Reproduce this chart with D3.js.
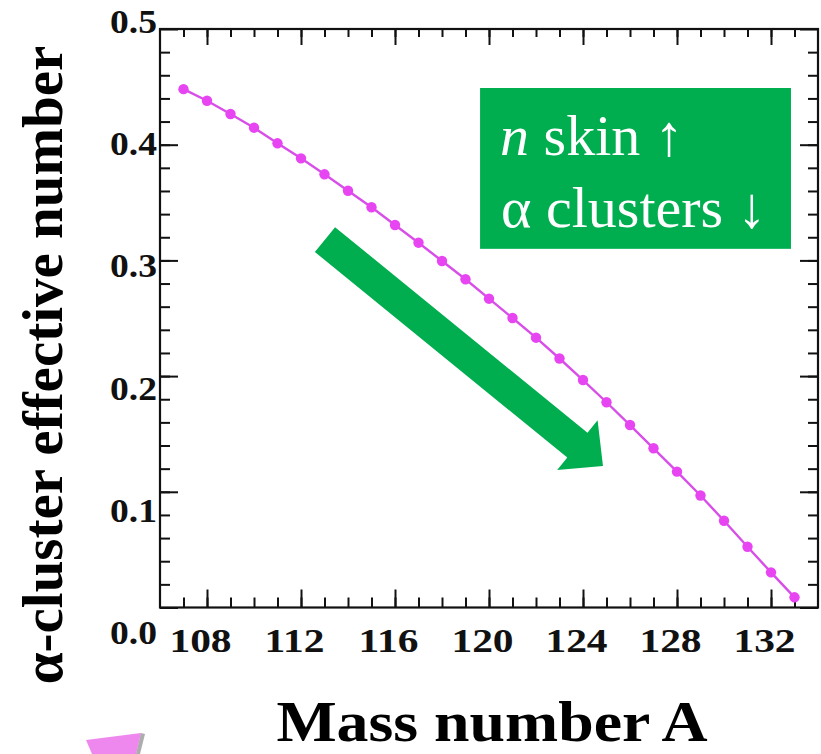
<!DOCTYPE html>
<html>
<head>
<meta charset="utf-8">
<script src="https://cdn.jsdelivr.net/npm/d3@7"></script>
<style>
  html, body { margin: 0; padding: 0; background: #ffffff; }
  svg { display: block; }
  text { font-family: "Liberation Serif", "Times New Roman", serif; }
</style>
</head>
<body>
<svg id="chart" width="821" height="754"></svg>
<script>
// Mass numbers of the isotopes and their alpha-cluster effective numbers
const massNumbers = [107, 108, 109, 110, 111, 112, 113, 114, 115, 116, 117, 118, 119, 120,
                     121, 122, 123, 124, 125, 126, 127, 128, 129, 130, 131, 132, 133];
const alphaEffective = [0.448, 0.438, 0.4265, 0.4147, 0.4012, 0.3882, 0.3744, 0.3602, 0.3459,
                        0.3306, 0.3153, 0.2995, 0.2837, 0.2669, 0.2502, 0.2332, 0.2152, 0.1966,
                        0.1774, 0.1577, 0.1376, 0.1174, 0.0968, 0.0750, 0.0525, 0.0304, 0.0088];

const xDomain = [106, 134];
const yDomain = [0, 0.5];
const xMajorTicks = [108, 112, 116, 120, 124, 128, 132];
const xMinorTicks = d3.range(107, 134);
const yMajorTicks = [0, 0.1, 0.2, 0.3, 0.4, 0.5];
const yMinorTicks = d3.range(0.02, 0.5, 0.02);
const yTickLabels = ["0.0", "0.1", "0.2", "0.3", "0.4", "0.5"];

const svg = d3.select("#chart");
const plotLeft = 160, plotRight = 818, plotTop = 29, plotBottom = 607.5;

const x = d3.scaleLinear().domain(xDomain).range([plotLeft, plotRight]);
const y = d3.scaleLinear().domain(yDomain).range([plotBottom, plotTop]);
// tick labels sit on a slightly taller ladder than the ticks themselves
const yLabelPos = d3.scaleLinear().domain(yDomain).range([632, 21]);

const ink = "#111";
const serif = "'Liberation Serif', 'Times New Roman', serif";

// ---- ticks on all four sides, pointing inward ----
function tickLayer(axis, tx, ty) {
  const g = svg.append("g").attr("transform", `translate(${tx},${ty})`).call(axis);
  g.select(".domain").remove();
  g.selectAll("line").attr("stroke", ink).attr("stroke-width", 2);
  g.selectAll("text").remove();
  return g;
}
tickLayer(d3.axisBottom(x).tickValues(xMinorTicks).tickSize(-10), 0, plotBottom);
tickLayer(d3.axisBottom(x).tickValues(xMajorTicks).tickSize(-18), 0, plotBottom);
tickLayer(d3.axisTop(x).tickValues(xMinorTicks).tickSize(-8), 0, plotTop);
tickLayer(d3.axisTop(x).tickValues(xMajorTicks).tickSize(-16), 0, plotTop);
tickLayer(d3.axisLeft(y).tickValues(yMinorTicks).tickSize(-10), plotLeft, 0);
tickLayer(d3.axisLeft(y).tickValues(yMajorTicks).tickSize(-18), plotLeft, 0);
tickLayer(d3.axisRight(y).tickValues(yMinorTicks).tickSize(-10), plotRight, 0);
tickLayer(d3.axisRight(y).tickValues(yMajorTicks).tickSize(-18), plotRight, 0);

// frame
svg.append("rect")
  .attr("x", plotLeft).attr("y", plotTop)
  .attr("width", plotRight - plotLeft).attr("height", plotBottom - plotTop)
  .attr("fill", "none").attr("stroke", ink).attr("stroke-width", 2.2);

// ---- tick labels (bold serif, drawn a little wide) ----
const xLab = svg.append("g").attr("transform", `translate(0,${plotBottom})`)
  .call(d3.axisBottom(x).tickValues(xMajorTicks).tickSize(0).tickFormat(d3.format("d")));
xLab.select(".domain").remove();
xLab.selectAll("text")
  .attr("y", 45).attr("dy", 0)
  .attr("fill", ink)
  .style("font-family", serif)
  .style("font-weight", "bold")
  .style("font-size", "34px")
  .attr("transform", "translate(-7,0) scale(1.22,1)");

const yLab = svg.append("g").attr("transform", `translate(${plotLeft - 3},0)`)
  .call(d3.axisLeft(yLabelPos).tickValues(yMajorTicks).tickSize(0)
    .tickFormat((d, i) => yTickLabels[i]));
yLab.select(".domain").remove();
yLab.selectAll("text")
  .attr("x", 0).attr("dy", "0.35em")
  .attr("fill", ink)
  .style("font-family", serif)
  .style("font-weight", "bold")
  .style("font-size", "33px")
  .attr("transform", "scale(1.14,1)");

// ---- axis titles ----
svg.append("text")
  .attr("transform", "translate(62,365) rotate(-90)")
  .attr("text-anchor", "middle")
  .style("font-family", serif)
  .style("font-weight", "bold")
  .style("font-size", "57px")
  .attr("fill", "#000")
  .text("α-cluster effective number");

svg.append("text")
  .attr("transform", "translate(492,741) scale(1.1,1)")
  .attr("text-anchor", "middle")
  .style("font-family", serif)
  .style("font-weight", "bold")
  .style("font-size", "58px")
  .attr("fill", "#000")
  .text("Mass number A");

// ---- data line and points ----
const pts = massNumbers.map((m, i) => [m, alphaEffective[i]]);
svg.append("path")
  .datum(pts)
  .attr("fill", "none")
  .attr("stroke", "#d84ee8")
  .attr("stroke-width", 2.4)
  .attr("d", d3.line().x(d => x(d[0])).y(d => y(d[1])));

svg.append("g").selectAll("circle")
  .data(pts)
  .join("circle")
  .attr("cx", d => x(d[0]))
  .attr("cy", d => y(d[1]))
  .attr("r", 5.2)
  .attr("fill", "#e845f2");

// ---- annotation: green label box ----
const green = "#00ae4f";
const boxX0 = x(119.62), boxX1 = x(132.85), boxY0 = y(0.449), boxY1 = y(0.31);
svg.append("rect")
  .attr("x", boxX0).attr("y", boxY0)
  .attr("width", boxX1 - boxX0).attr("height", boxY1 - boxY0)
  .attr("fill", green);

const l1 = svg.append("text")
  .attr("x", boxX0 + 20).attr("y", boxY0 + 67)
  .attr("fill", "#fff").style("font-family", serif).style("font-size", "58px");
l1.append("tspan").style("font-style", "italic").text("n");
l1.append("tspan").text(" skin ↑");

svg.append("text")
  .attr("x", boxX0 + 21).attr("y", boxY0 + 139)
  .attr("fill", "#fff").style("font-family", serif).style("font-size", "58px")
  .text("α clusters ↓");

// ---- annotation: thick green arrow pointing down the trend ----
const tail = [x(113.02), y(0.318)];
const tip = [x(124.85), y(0.1223)];
const len = Math.hypot(tip[0] - tail[0], tip[1] - tail[1]);
const u = [(tip[0] - tail[0]) / len, (tip[1] - tail[1]) / len];
const nrm = [-u[1], u[0]];
const headLen = 33, shaftHalf = 16, headHalf = 32;
const base = [tip[0] - u[0] * headLen, tip[1] - u[1] * headLen];
const off = (p, k) => [p[0] + nrm[0] * k, p[1] + nrm[1] * k];
const arrowPts = [off(tail, shaftHalf), off(base, shaftHalf), off(base, headHalf), tip,
                  off(base, -headHalf), off(base, -shaftHalf), off(tail, -shaftHalf)];
svg.append("path")
  .attr("d", d3.line()(arrowPts) + "Z")
  .attr("fill", green);

// ---- partial violet arrow peeking in at the lower left ----
svg.append("path")
  .attr("d", d3.line()([[86, 740], [141, 733], [136, 754], [92, 754]]) + "Z")
  .attr("fill", "#ee88ee");
svg.append("path")
  .attr("d", d3.line()([[141, 733], [145, 734], [140, 754], [136, 754]]) + "Z")
  .attr("fill", "#777").attr("opacity", 0.6);
</script>
</body>
</html>
